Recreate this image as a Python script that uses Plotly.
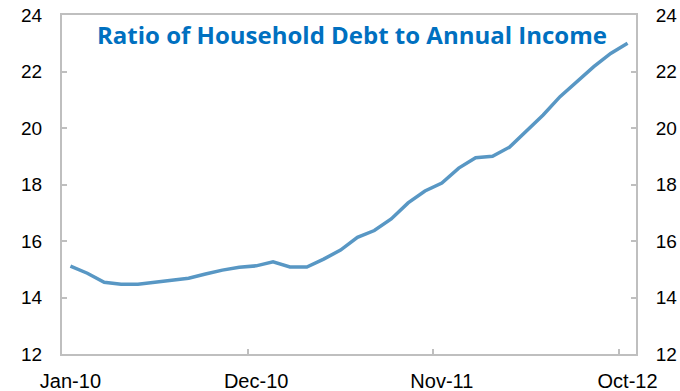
import plotly.graph_objects as go

# Monthly observations, Jan-2010 through Oct-2012
months = [
    "Jan-10", "Feb-10", "Mar-10", "Apr-10", "May-10", "Jun-10", "Jul-10", "Aug-10",
    "Sep-10", "Oct-10", "Nov-10", "Dec-10", "Jan-11", "Feb-11", "Mar-11", "Apr-11",
    "May-11", "Jun-11", "Jul-11", "Aug-11", "Sep-11", "Oct-11", "Nov-11", "Dec-11",
    "Jan-12", "Feb-12", "Mar-12", "Apr-12", "May-12", "Jun-12", "Jul-12", "Aug-12",
    "Sep-12", "Oct-12",
]
debt_ratio = [
    15.11, 14.86, 14.54, 14.47, 14.47, 14.54, 14.61, 14.68,
    14.83, 14.97, 15.07, 15.12, 15.26, 15.08, 15.08, 15.36,
    15.68, 16.13, 16.37, 16.78, 17.35, 17.77, 18.05, 18.58,
    18.95, 19.00, 19.32, 19.87, 20.46, 21.11, 21.64, 22.17,
    22.64, 23.00,
]
label_months = ["Jan-10", "Dec-10", "Nov-11", "Oct-12"]
y_ticks = [12, 14, 16, 18, 20, 22, 24]
boundary_ticks = [10.5, 21.5, 32.5]

title_text = "Ratio of Household Debt to Annual Income"

axis_grey = "#BFBFBF"
n = len(months)
x_range = [-0.5, n - 0.5]
y_range = [12, 24]
label_font = dict(family="Liberation Sans, Arial", size=19, color="black")

fig = go.Figure()
fig.add_trace(go.Scatter(
    x=months, y=debt_ratio, mode="lines",
    line=dict(color="#5897C4", width=3.5),
    xaxis="x", yaxis="y", showlegend=False, hoverinfo="x+y",
))
# empty traces so the secondary axes get drawn
fig.add_trace(go.Scatter(x=[], y=[], xaxis="x2", yaxis="y", showlegend=False))
fig.add_trace(go.Scatter(x=[], y=[], xaxis="x", yaxis="y2", showlegend=False))

fig.update_layout(
    width=680, height=391,
    margin=dict(l=62, r=44, t=15, b=37),
    paper_bgcolor="white", plot_bgcolor="white",
    showlegend=False,
    xaxis=dict(
        type="category", categoryorder="array", categoryarray=months,
        range=x_range, tickmode="array", tickvals=label_months,
        ticks="", showgrid=False, zeroline=False, automargin=False,
        showline=True, linecolor=axis_grey, linewidth=2, mirror=True,
        tickfont=dict(family="Liberation Sans, Arial", size=20, color="black"),
        ticklabelstandoff=8,
    ),
    xaxis2=dict(
        overlaying="x", anchor="y", side="bottom", type="linear",
        range=x_range, tickmode="array", tickvals=boundary_ticks,
        ticks="inside", ticklen=5, tickwidth=2, tickcolor=axis_grey,
        showticklabels=False, showgrid=False, zeroline=False, showline=False,
        automargin=False,
    ),
    yaxis=dict(
        range=y_range, tickmode="array", tickvals=y_ticks,
        ticks="inside", ticklen=5, tickwidth=2, tickcolor=axis_grey,
        showgrid=False, zeroline=False, automargin=False,
        showline=True, linecolor=axis_grey, linewidth=2,
        tickfont=label_font, ticklabelstandoff=14,
    ),
    yaxis2=dict(
        overlaying="y", anchor="x", side="right",
        range=y_range, tickmode="array", tickvals=y_ticks,
        ticks="inside", ticklen=5, tickwidth=2, tickcolor=axis_grey,
        showgrid=False, zeroline=False, automargin=False,
        showline=True, linecolor=axis_grey, linewidth=2,
        tickfont=label_font, ticklabelstandoff=14,
    ),
    annotations=[dict(
        text="<b>" + title_text + "</b>",
        xref="paper", yref="paper", x=0.505, y=0.997,
        xanchor="center", yanchor="top", showarrow=False,
        font=dict(family="Open Sans", size=24, color="#0070C0"),
    )],
)

fig.write_html("out.html")
